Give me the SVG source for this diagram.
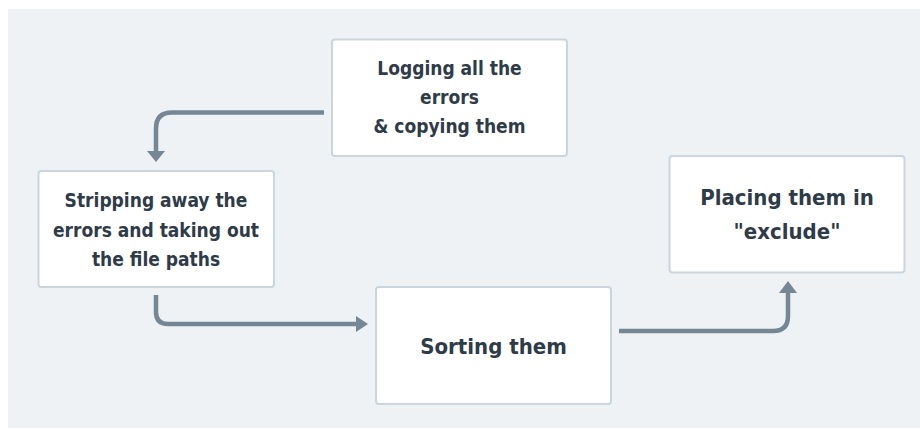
<svg xmlns="http://www.w3.org/2000/svg" width="920" height="428" viewBox="0 0 920 428">
<style>
.node rect{fill:#ffffff;stroke:#cbd5de;stroke-width:2}
.node text{font-family:"DejaVu Sans Condensed","DejaVu Sans",sans-serif;font-weight:bold;fill:#2e3b48;text-anchor:middle}
.t16{font-size:19px}
.t20{font-size:22px}
.conn .line{fill:none;stroke:#758695;stroke-width:4.5;stroke-linecap:butt}
.conn .head{fill:#758695;stroke:none}
</style>
<rect x="8" y="9" width="912" height="419" fill="#eef2f5"/>
<g class="conn" id="connectors">
<path class="line" d="M324,112.5 H172 Q156,112.5 156,128.5 V151"/>
<path class="head" d="M147,151 L165,151 L156,162 Z"/>
<path class="line" d="M156,295 V312 Q156,324 168,324 H356"/>
<path class="head" d="M356,316 L368,324 L356,332 Z"/>
<path class="line" d="M619,331 H773 Q788,331 788,316 V292"/>
<path class="head" d="M779,293 L788,281 L797,293 Z"/>
</g>
<g class="node" id="n-logging">
<rect x="332" y="39.5" width="235" height="116.5" rx="3"/>
<text class="t16" x="449.5" y="75">Logging all the</text>
<text class="t16" x="449.5" y="104">errors</text>
<text class="t16" x="449.5" y="133">&amp; copying them</text>
</g>
<g class="node" id="n-stripping">
<rect x="38.5" y="171" width="235.5" height="116" rx="3"/>
<text class="t16" x="156" y="207">Stripping away the</text>
<text class="t16" x="156" y="237">errors and taking out</text>
<text class="t16" x="156" y="266">the file paths</text>
</g>
<g class="node" id="n-sorting">
<rect x="376" y="287" width="235" height="117" rx="3"/>
<text class="t20" x="493.5" y="354">Sorting them</text>
</g>
<g class="node" id="n-placing">
<rect x="669.5" y="156" width="235" height="116.5" rx="3"/>
<text class="t20" x="787" y="205">Placing them in</text>
<text class="t20" x="787" y="239">"exclude"</text>
</g>
</svg>
